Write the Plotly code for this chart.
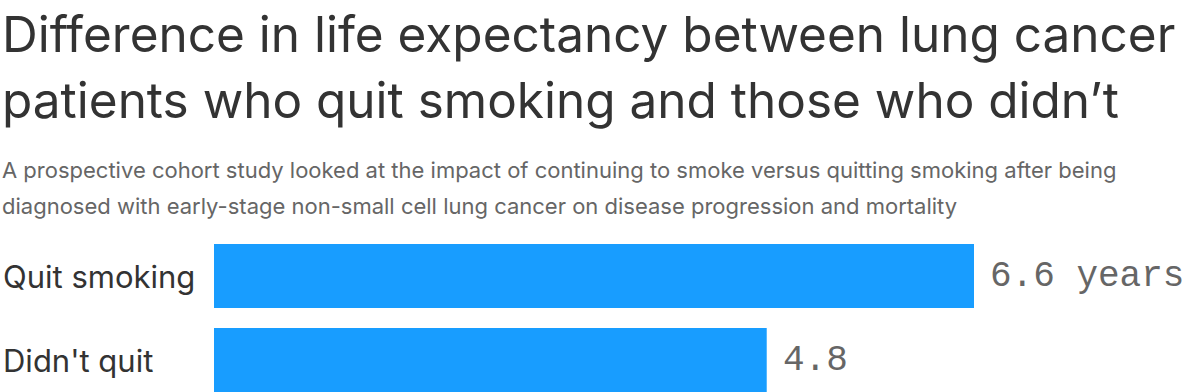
import plotly.graph_objects as go

title_lines = ["Difference in life expectancy between lung cancer",
               "patients who quit smoking and those who didn\u2019t"]
subtitle_lines = ["A prospective cohort study looked at the impact of continuing to smoke versus quitting smoking after being",
                  "diagnosed with early-stage non-small cell lung cancer on disease progression and mortality"]
categories = ["Quit smoking", "Didn't quit"]
values = [6.6, 4.8]
value_labels = ["6.6 years", "4.8"]

W, H = 1200, 392
BAR_COLOR = "#189dff"
SANS = "Inter, Roboto, sans-serif"
MONO = "Liberation Mono, monospace"

fig = go.Figure()
fig.add_trace(go.Bar(
    y=categories, x=values, orientation="h",
    marker=dict(color=BAR_COLOR, line=dict(width=0)),
    width=0.76, hoverinfo="skip", showlegend=False,
))

annotations = []
for i, line in enumerate(title_lines):
    annotations.append(dict(
        text=line, xref="paper", yref="paper", x=0, y=1 - (34 + 66 * i) / H,
        xanchor="left", yanchor="middle", showarrow=False,
        font=dict(family=SANS, size=49.5, color="#333333"),
    ))
for i, line in enumerate(subtitle_lines):
    annotations.append(dict(
        text=line, xref="paper", yref="paper", x=0, y=1 - (170 + 36 * i) / H,
        xanchor="left", yanchor="middle", showarrow=False,
        font=dict(family=SANS, size=22, color="#666666"),
    ))
for cat, v, lab in zip(categories, values, value_labels):
    annotations.append(dict(
        text=cat, xref="paper", yref="y", x=1 / W, y=cat,
        xanchor="left", yanchor="middle", showarrow=False,
        font=dict(family=SANS, size=31, color="#333333"),
    ))
    annotations.append(dict(
        text=lab, xref="x", yref="y", x=v, y=cat, xshift=14,
        xanchor="left", yanchor="middle", showarrow=False,
        font=dict(family=MONO, size=36, color="#666666"),
    ))

pitch = 84.0
y_top = 0 - 276 / pitch
y_bot = 1 + (H - 360) / pitch
fig.update_layout(
    width=W, height=H,
    margin=dict(l=0, r=0, t=0, b=0),
    paper_bgcolor="white", plot_bgcolor="white",
    xaxis=dict(domain=[214 / W, 1], range=[0, 986 / (760 / 6.6)],
               visible=False, fixedrange=True),
    yaxis=dict(domain=[0, 1], range=[y_bot, y_top], visible=False,
               fixedrange=True, type="category"),
    annotations=annotations,
    bargap=0.24,
)
fig.write_html("out.html", config={"displayModeBar": False})
